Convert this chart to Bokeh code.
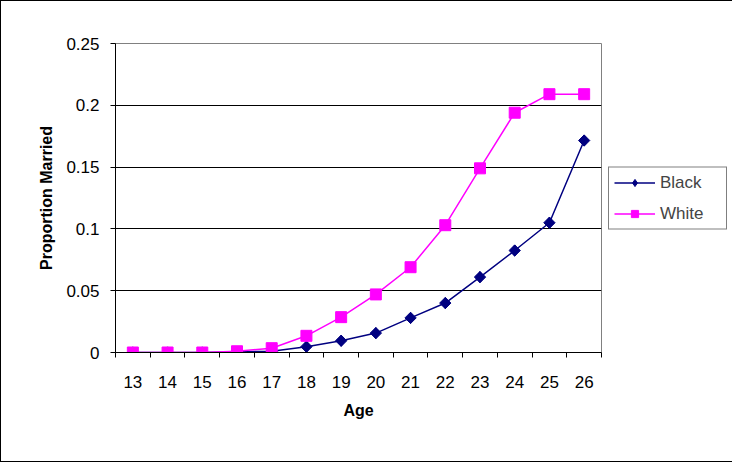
import math
from bokeh.plotting import figure
from bokeh.models import FixedTicker, Legend, LegendItem, Range1d
from bokeh.embed import file_html
from bokeh.resources import INLINE

ages = [13, 14, 15, 16, 17, 18, 19, 20, 21, 22, 23, 24, 25, 26]
black = [0.0, 0.0, 0.0, 0.0005, 0.001, 0.0047, 0.0095, 0.0157, 0.028, 0.040, 0.061, 0.0825, 0.105, 0.1715]
white = [0.0, 0.0, 0.0, 0.001, 0.0035, 0.0135, 0.0286, 0.047, 0.069, 0.103, 0.149, 0.194, 0.209, 0.209]
yticks = [0, 0.05, 0.1, 0.15, 0.2, 0.25]
ytick_labels = ["0", "0.05", "0.1", "0.15", "0.2", "0.25"]
age_edges = [a - 0.5 for a in ages] + [ages[-1] + 0.5]

FONT = "Liberation Sans"

p = figure(output_backend="svg", toolbar_location=None,
           frame_width=486, frame_height=309,
           min_border_left=114, min_border_right=130,
           min_border_top=42, min_border_bottom=109,
           x_range=Range1d(age_edges[0], age_edges[-1]),
           y_range=Range1d(yticks[0], yticks[-1]))
p.styles = {"border": "1px solid #000000", "box-sizing": "border-box"}
p.background_fill_color = "white"
p.border_fill_color = "white"
p.outline_line_color = "#808080"
p.outline_line_width = 1

# axes
p.xaxis.ticker = FixedTicker(ticks=ages, minor_ticks=age_edges)
p.xaxis.major_tick_out = 0
p.xaxis.major_tick_in = 0
p.xaxis.minor_tick_out = 5
p.xaxis.minor_tick_in = 0
p.xaxis.minor_tick_line_color = "black"
p.xaxis.axis_line_color = "black"
p.xaxis.major_label_standoff = 18
p.xaxis.axis_label = "Age"
p.xaxis.axis_label_standoff = 11

p.yaxis.ticker = FixedTicker(ticks=yticks, minor_ticks=[])
p.yaxis.major_label_overrides = dict(zip(yticks, ytick_labels))
p.yaxis.major_tick_out = 5
p.yaxis.major_tick_in = 0
p.yaxis.minor_tick_line_color = None
p.yaxis.major_tick_line_color = "black"
p.yaxis.axis_line_color = "black"
p.yaxis.major_label_standoff = 11
p.yaxis.axis_label = "Proportion Married"
p.yaxis.axis_label_standoff = 8

for ax in (p.xaxis, p.yaxis):
    ax.major_label_text_font = FONT
    ax.major_label_text_font_size = "17px"
    ax.major_label_text_color = "black"
    ax.axis_label_text_font = FONT
    ax.axis_label_text_font_size = "16px"
    ax.axis_label_text_font_style = "bold"
    ax.axis_label_text_color = "black"

p.xgrid.grid_line_color = None
p.ygrid.ticker = FixedTicker(ticks=yticks[1:-1])
p.ygrid.grid_line_color = "black"
p.ygrid.grid_line_width = 1

# series
bl = p.line(ages, black, line_color="#000080", line_width=1.5)
# diamond key (used by the legend), covered in the plot by the rotated square
bkey = p.scatter(ages, black, marker="diamond", size=11,
                 fill_color="#000080", line_color="#000080")
bm = p.scatter(ages, black, marker="square", angle=math.pi / 4, size=8,
               fill_color="#000080", line_color="#000080")
wl = p.line(ages, white, line_color="#FF00FF", line_width=1.5)
wm = p.scatter(ages, white, marker="square", size=11,
               fill_color="#FF00FF", line_color="#FF00FF")

legend = Legend(items=[LegendItem(label="Black", renderers=[bl, bkey]),
                       LegendItem(label="White", renderers=[wl, wm])],
                location="left")
legend.border_line_color = "black"
legend.border_line_width = 1
legend.background_fill_color = "white"
legend.background_fill_alpha = 1
legend.label_text_font = FONT
legend.label_text_font_size = "17px"
legend.glyph_width = 41
legend.glyph_height = 18
legend.label_height = 18
legend.label_width = 61
legend.spacing = 11
legend.padding = 5
legend.margin = 7
legend.label_standoff = 5
p.add_layout(legend, "right")

open("out.html", "w").write(file_html(p, INLINE))
